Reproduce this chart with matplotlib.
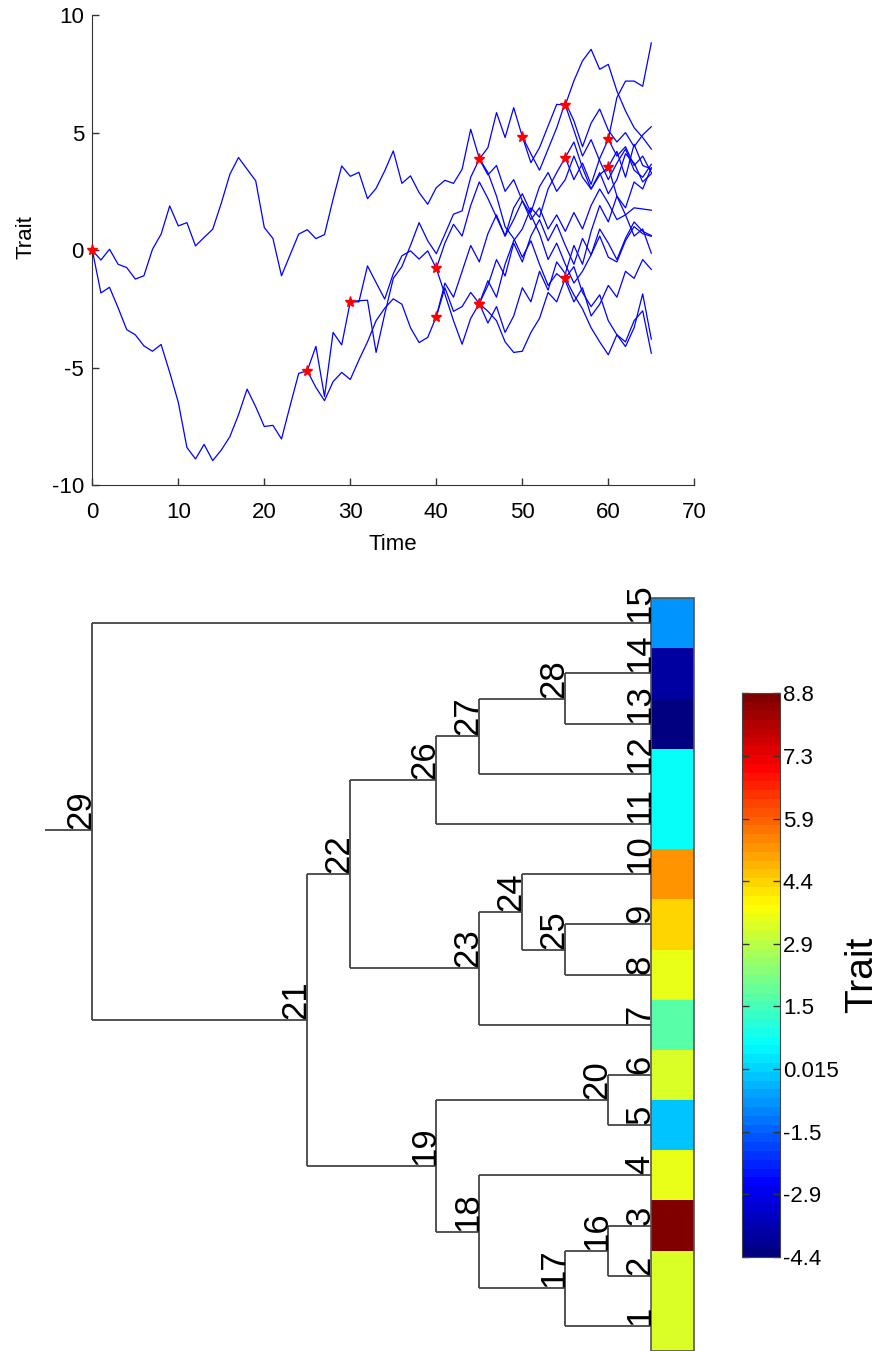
import numpy as np
import matplotlib
matplotlib.use('Agg')
import matplotlib.pyplot as plt
from matplotlib.colors import LinearSegmentedColormap, Normalize
from matplotlib.patches import Rectangle
from matplotlib.transforms import offset_copy

plt.rcParams['font.family'] = ['Liberation Sans', 'DejaVu Sans']
plt.rcParams['axes.unicode_minus'] = False

# trait value at every unit time step along each branch,
# the branch leading to node/tip N starts at its parent's split time
path_15 = [0, -0.42, 0.04, -0.6, -0.74, -1.23, -1.09, 0.04, 0.68, 1.88,
           1.03, 1.17, 0.18, 0.54, 0.89, 2.0, 3.23, 3.94, 3.44, 2.95,
           0.96, 0.5, -1.09, -0.2, 0.68, 0.87, 0.49, 0.66, 2.17, 3.58,
           3.14, 3.31, 2.19, 2.63, 3.37, 4.22, 2.84, 3.16, 2.45, 1.95,
           2.66, 2.97, 2.84, 3.44, 5.14, 3.9, 3.3, 2.3, 1.0, 0.5,
           -0.3, 0.4, -0.6, -1.5, -1.0, -1.3, -2.2, -1.6, -2.8, -2.3,
           -1.5, -2.0, -0.9, -1.2, -0.4, -0.82]
path_21 = [0, -1.82, -1.58, -2.45, -3.38, -3.6, -4.07, -4.3, -4.01, -5.2,
           -6.47, -8.39, -8.88, -8.26, -8.95, -8.5, -7.93, -7.0, -5.91, -6.66,
           -7.5, -7.45, -8.03, -6.62, -5.24, -5.13]
path_22 = [-5.13, -4.09, -6.22, -3.5, -4.03, -2.19]
path_19 = [-5.13, -5.84, -6.4, -5.59, -5.2, -5.5, -4.67, -3.9, -3.0, -2.47,
           -2.07, -2.3, -3.3, -3.93, -3.71, -2.83]
path_26 = [-2.19, -2.2, -0.67, -1.38, -2.08, -1.0, -0.24, -0.03, -0.38, -0.03, -0.78]
path_23 = [-2.19, -2.15, -2.13, -4.35, -2.72, -1.2, -0.7, 0.2, 1.17, 0.4,
           -0.15, 0.68, 1.53, 1.67, 3.1, 3.87]
path_11 = [-0.78, 0.3, 1.1, 0.6, 1.9, 2.9, 2.2, 1.4, 0.6, 1.3, 2.1, 1.5, 0.7,
           -0.4, 0.3, -0.6, -1.4, -0.9, -0.2, 0.6, -0.3, -0.5, 0.4, 1.0, 0.7, 0.59]
path_27 = [-0.78, -1.87, -3.0, -4.0, -2.9, -2.27]
path_18 = [-2.83, -1.6, -2.6, -2.4, -1.8, -2.27]
path_20 = [-2.83, -1.4, -2.0, -0.9, 0.2, -0.5, 0.7, 1.5, 0.6, 1.8, 2.4,
           1.6, 2.7, 3.3, 2.5, 3.0, 4.0, 3.1, 2.6, 3.2, 3.54]
path_12 = [-2.27, -1.5, -0.4, -1.1, 0.3, -0.5, 0.6, 1.3, 0.4, 1.1, 0.2,
           -0.6, 0.5, -0.2, 0.9, 0.3, -0.4, 0.5, 1.2, 0.8, 0.62]
path_28 = [-2.27, -2.6, -3.0, -3.9, -4.35, -4.3, -3.5, -2.9, -1.8, -2.2, -1.19]
path_7 = [3.87, 3.2, 3.6, 2.5, 3.0, 2.1, 1.3, 1.8, 0.9, 1.5, 0.8,
          1.6, 0.9, 1.9, 2.6, 2.0, 1.3, 1.5, 1.8, 1.75, 1.70]
path_24 = [3.87, 4.36, 5.85, 4.79, 6.06, 4.83]
path_4 = [-2.27, -3.1, -2.4, -3.5, -2.8, -1.6, -2.2, -0.9, -1.7, -0.5, -1.0,
          0.2, -0.6, 0.8, 1.9, 1.2, 2.3, 1.8, 2.9, 2.6, 3.51]
path_17 = [-2.27, -1.3, -2.0, -0.6, 0.4, 0.9, 1.8, 1.4, 2.6, 3.3, 3.94]
path_10 = [4.83, 4.1, 3.4, 4.3, 5.2, 6.3, 5.5, 4.4, 5.4, 6.0, 5.1, 4.6, 5.0, 4.4, 4.9, 5.25]
path_25 = [4.83, 3.72, 4.36, 5.28, 6.2, 6.17]
path_13 = [-1.19, -1.9, -2.5, -3.3, -3.9, -4.45, -3.6, -3.9, -3.0, -2.58, -4.383]
path_14 = [-1.19, -0.7, -1.8, -2.4, -1.9, -3.0, -3.6, -4.1, -3.3, -1.86, -3.78]
path_8 = [6.17, 5.1, 4.0, 4.7, 3.8, 3.0, 3.7, 4.3, 3.4, 3.1, 3.65]
path_9 = [6.17, 7.2, 8.05, 8.54, 7.69, 7.9, 6.77, 5.92, 5.21, 4.79, 4.3]
path_1 = [3.94, 4.6, 3.5, 2.6, 3.3, 2.4, 3.0, 4.1, 3.7, 2.9, 3.25]
path_16 = [3.94, 3.0, 3.7, 2.8, 3.9, 4.72]
path_2 = [4.72, 4.0, 4.4, 3.6, 4.0, 3.30]
path_3 = [4.72, 6.49, 7.19, 7.19, 6.97, 8.812]
path_5 = [3.54, 2.3, 1.5, 0.6, 0.9, -0.13]
path_6 = [3.54, 4.2, 3.1, 4.5, 3.6, 3.45]

# tree: internal node -> children, and split times
children = {29: (21, 15), 21: (22, 19), 22: (26, 23), 26: (27, 11), 27: (28, 12),
            28: (13, 14), 23: (24, 7), 24: (25, 10), 25: (8, 9), 19: (18, 20),
            20: (5, 6), 18: (17, 4), 17: (16, 1), 16: (2, 3)}
split_time = {29: 0, 21: 25, 22: 30, 26: 40, 19: 40, 27: 45, 23: 45, 18: 45,
              24: 50, 28: 55, 25: 55, 17: 55, 20: 60, 16: 60}
tip_time = 65
n_tips = 15
root_stub_y = 10.88
root_stub_len = 5.5

paths = {15: path_15, 21: path_21, 22: path_22, 19: path_19, 26: path_26,
         23: path_23, 11: path_11, 27: path_27, 18: path_18, 20: path_20,
         12: path_12, 28: path_28, 7: path_7, 24: path_24, 4: path_4,
         17: path_17, 10: path_10, 25: path_25, 13: path_13, 14: path_14,
         8: path_8, 9: path_9, 1: path_1, 16: path_16, 2: path_2, 3: path_3,
         5: path_5, 6: path_6}

parent = {}
for n, ch in children.items():
    for c in ch:
        parent[c] = n

def node_time(n):
    return split_time.get(n, tip_time)

tip_values = np.array([paths[i][-1] for i in range(1, n_tips + 1)])

# MATLAB style jet with 64 levels
jet64 = LinearSegmentedColormap.from_list(
    'jet64', [(0, (0, 0, 0.5)), (1/8, (0, 0, 1)), (3/8, (0, 1, 1)),
              (5/8, (1, 1, 0)), (7/8, (1, 0, 0)), (1, (0.5, 0, 0))], N=64)
norm = Normalize(vmin=tip_values.min(), vmax=tip_values.max())

fig = plt.figure(figsize=(8.79, 13.51), dpi=100)

# ---------------- top: trait evolution through time ----------------
ax1 = fig.add_axes([92.3/879, 1 - 485.3/1351, 602/879, 470.3/1351])
for c, vals in paths.items():
    t0 = node_time(parent[c])
    ts = t0 + np.arange(len(vals))
    ax1.plot(ts, vals, color='#0000ff', lw=0.9, zorder=2)

for n, t in split_time.items():
    v = paths[children[n][0]][0]
    ax1.plot(t, v, marker='*', ms=8, color='red', mec='red', zorder=3, clip_on=False)

ax1.set_xlim(0, 70)
ax1.set_ylim(-10, 10)
ax1.set_xticks(np.arange(0, 71, 10))
ax1.set_yticks(np.arange(-10, 11, 5))
for s in ['top', 'right']:
    ax1.spines[s].set_visible(False)
for s in ['left', 'bottom']:
    ax1.spines[s].set_color('#333333')
ax1.tick_params(direction='in', length=5, width=1, color='#333333', labelsize=16)
ax1.tick_params(axis='x', pad=12)
ax1.tick_params(axis='y', pad=6)
ax1.set_xlabel('Time', fontsize=16)
ax1.set_ylabel('Trait', fontsize=16)
ax1.xaxis.set_label_coords(0.5, -0.103)
ax1.yaxis.set_label_coords(-0.092, 0.528)

# ---------------- bottom: tree with tip trait colours ----------------
t_left = (40 - 92.3) / 8.6
t_right = (700 - 92.3) / 8.6
ax2 = fig.add_axes([40/879, 0, 660/879, 771/1351])
ax2.set_xlim(t_left, t_right)
ax2.set_ylim(0.5, 15 + (623.3 - 580) / 50.17)
ax2.axis('off')

ypos = {i: float(i) for i in range(1, n_tips + 1)}

def get_y(n):
    if n not in ypos:
        ypos[n] = np.mean([get_y(c) for c in children[n]])
    return ypos[n]

for n in children:
    get_y(n)

line_kw = dict(color='#444444', lw=1.3, solid_capstyle='butt')
for n, ch in children.items():
    tn = split_time[n]
    ys = [ypos[c] for c in ch]
    ax2.plot([tn, tn], [min(ys), max(ys)], **line_kw)
    for c in ch:
        ax2.plot([tn, node_time(c)], [ypos[c], ypos[c]], **line_kw)
ax2.plot([-root_stub_len, 0], [root_stub_y, root_stub_y], **line_kw)

lab_tr = offset_copy(ax2.transData, fig=fig, x=-2, y=1, units='dots')
for n in list(range(1, n_tips + 1)) + list(children.keys()):
    y = root_stub_y if n == 29 else ypos[n]
    ax2.text(node_time(n), y, str(n), rotation=90, rotation_mode='anchor',
             ha='left', va='baseline', fontsize=25, transform=lab_tr)

edges = np.arange(0.5, n_tips + 1, 1.0)
mesh = ax2.pcolormesh([tip_time, 70], edges, tip_values.reshape(-1, 1),
                      cmap=jet64, norm=norm, shading='flat')
ax2.add_patch(Rectangle((tip_time, 0.5), 5, n_tips, fill=False,
                        edgecolor='#555555', lw=1.2, clip_on=False))

# colorbar
cax = fig.add_axes([742/879, (1351 - 1256.7)/1351, 38/879, 563.4/1351])
ticks = np.linspace(norm.vmin, norm.vmax, 10)
cb = fig.colorbar(mesh, cax=cax, ticks=ticks)
cb.ax.set_yticklabels(['%.2g' % v for v in ticks])
cb.ax.tick_params(direction='in', left=True, right=True, length=5, width=1,
                  color='#333333', labelsize=16, pad=2)
cb.outline.set_edgecolor('#444444')
fig.text(862/879, 1 - 975/1351, 'Trait', rotation=90, ha='center', va='center',
         fontsize=28)

fig.savefig('out.png', dpi=100)
